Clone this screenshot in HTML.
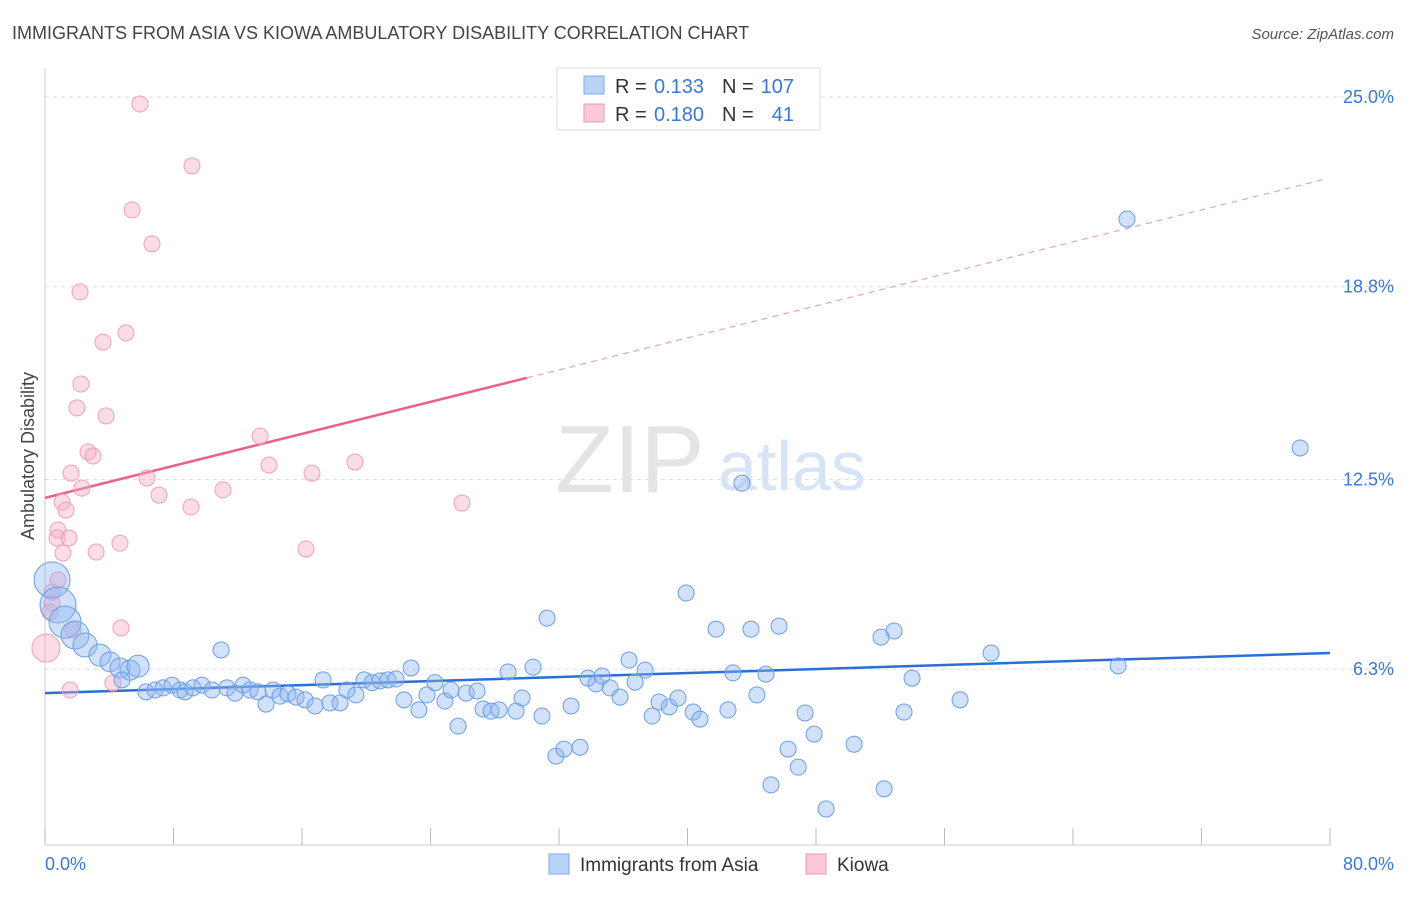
<!DOCTYPE html>
<html><head><meta charset="utf-8"><style>
body{margin:0;background:#fff;font-family:"Liberation Sans",sans-serif}
svg text{font-family:"Liberation Sans",sans-serif}
</style></head><body>
<svg width="1406" height="892" viewBox="0 0 1406 892">
<text x="12" y="39" font-size="18" fill="#444">IMMIGRANTS FROM ASIA VS KIOWA AMBULATORY DISABILITY CORRELATION CHART</text>
<text x="1394" y="39" font-size="15" fill="#555" font-style="italic" text-anchor="end">Source: ZipAtlas.com</text>
<g id="grid"></g>
<text x="555" y="492" font-size="96" fill="#e4e4e4" font-family="Liberation Serif">ZIP</text>
<text x="718" y="490" font-size="70" fill="#d6e4f5">atlas</text>
<line x1="45" y1="68" x2="45" y2="845" stroke="#ccc"/>
<line x1="45" y1="845" x2="1330" y2="845" stroke="#ccc"/>
<g id="xticks"></g>
<text x="45" y="870" font-size="18" fill="#3a78d4">0.0%</text>
<text x="1394" y="870" font-size="18" fill="#3a78d4" text-anchor="end">80.0%</text>
<text transform="translate(34,456) rotate(-90)" font-size="18" fill="#444" text-anchor="middle">Ambulatory Disability</text>
<g id="lines"></g>
<g id="pts"></g>
<g>
<rect x="557" y="68" width="263" height="62" fill="#fff" stroke="#ddd"/>
<rect x="584" y="76" width="20" height="18" fill="#b9d3f7" stroke="#7ea9e8"/>
<rect x="584" y="104" width="20" height="18" fill="#fbc9d9" stroke="#ee98b6"/>
<text x="615" y="93" font-size="20" fill="#333">R =</text>
<text x="704" y="93" font-size="20" fill="#3a78d4" text-anchor="end">0.133</text>
<text x="722" y="93" font-size="20" fill="#333">N =</text>
<text x="794" y="93" font-size="20" fill="#3a78d4" text-anchor="end">107</text>
<text x="615" y="121" font-size="20" fill="#333">R =</text>
<text x="704" y="121" font-size="20" fill="#3a78d4" text-anchor="end">0.180</text>
<text x="722" y="121" font-size="20" fill="#333">N =</text>
<text x="794" y="121" font-size="20" fill="#3a78d4" text-anchor="end">41</text>
</g>
<g>
<rect x="549" y="854" width="20" height="20" fill="#b9d3f7" stroke="#7ea9e8"/>
<text x="580" y="871" font-size="19" fill="#333">Immigrants from Asia</text>
<rect x="806" y="854" width="20" height="20" fill="#fbc9d9" stroke="#ee98b6"/>
<text x="837" y="871" font-size="19" fill="#333">Kiowa</text>
</g>
</svg>
<script>
const yTicks=[25.0,18.8,12.5,6.3];
const yTickLabels=["25.0%","18.8%","12.5%","6.3%"];
const xTickVals=[0,8,16,24,32,40,48,56,64,72,80];
const blueX=[0.44,0.81,1.25,1.87,2.49,3.42,4.05,4.67,5.29,5.79,4.79,6.29,6.85,7.35,7.91,8.41,8.72,9.21,9.77,10.40,10.96,11.33,11.83,12.33,12.76,13.26,13.76,14.20,14.63,15.13,15.63,16.19,16.81,17.31,17.74,18.37,18.80,19.36,19.86,20.36,20.86,21.35,21.85,22.35,22.79,23.28,23.78,24.28,24.90,25.28,25.72,26.22,26.90,27.27,27.77,28.27,28.83,29.33,29.70,30.38,30.94,31.26,31.81,32.31,32.75,33.31,33.81,34.30,34.68,35.18,35.80,36.36,36.74,37.36,37.80,38.23,38.86,39.41,39.91,40.35,40.78,41.78,42.52,42.83,43.39,43.95,44.32,44.88,45.70,45.20,46.26,46.89,47.32,47.88,48.63,50.37,52.05,52.24,52.86,53.48,53.98,56.97,58.90,66.81,67.36,78.14];
const blueY=[9.22,8.40,7.84,7.42,7.09,6.76,6.54,6.34,6.27,6.40,5.95,5.56,5.62,5.69,5.78,5.62,5.56,5.69,5.78,5.62,6.93,5.69,5.52,5.78,5.62,5.56,5.16,5.62,5.42,5.49,5.39,5.30,5.10,5.95,5.20,5.20,5.62,5.46,5.95,5.86,5.92,5.95,5.98,5.30,6.34,4.97,5.46,5.86,5.26,5.62,4.44,5.52,5.59,5.00,4.93,4.97,6.21,4.93,5.36,6.37,4.77,7.97,3.46,3.69,5.10,3.75,6.01,5.82,6.08,5.69,5.39,6.60,5.88,6.27,4.77,5.23,5.07,5.36,8.79,4.90,4.67,7.61,4.97,6.18,12.38,7.61,5.46,6.14,7.71,2.52,3.69,3.10,4.87,4.18,1.73,3.85,7.35,2.39,7.55,4.90,6.01,5.30,6.83,6.41,21.01,13.53];
const blueR=[18,18,16,14,12,11,10,10,10,11];
const pinkX=[5.91,9.15,5.42,6.66,2.18,5.04,3.61,2.24,1.99,3.80,13.39,2.68,2.99,13.95,19.30,1.62,16.62,6.35,2.30,11.08,7.10,1.06,25.96,9.09,1.31,0.81,0.75,1.49,4.67,1.12,3.18,16.25,0.81,0.44,0.44,0.31,4.73,1.74,0.06,4.23,1.56];
const pinkY=[24.77,22.75,21.31,20.20,18.63,17.29,16.99,15.62,14.84,14.58,13.92,13.40,13.27,12.97,13.07,12.71,12.71,12.55,12.22,12.16,11.99,11.76,11.73,11.60,11.50,10.85,10.59,10.59,10.42,10.10,10.13,10.23,9.22,8.82,8.46,8.17,7.65,7.58,6.99,5.85,5.62];
const blueLine=[5.52,6.83];
const pinkLine=[11.90,0.1307];
const pinkSolidEnd=30.0, pinkDashEnd=79.7;

const NS="http://www.w3.org/2000/svg";
const sx=v=>45+v/80*1285;
const sy=v=>97+(25-v)*30.6;
function mk(t,a,p){const e=document.createElementNS(NS,t);for(const k in a)e.setAttribute(k,a[k]);p.appendChild(e);return e;}
const grid=document.getElementById('grid');
yTicks.forEach((v,i)=>{
 const l=mk('line',{x1:45,x2:1394,y1:sy(v),y2:sy(v),stroke:'#ddd','stroke-dasharray':'4,4'},grid);
 
 
 const t=mk('text',{x:1394,y:sy(v)+6,'font-size':18,fill:'#3a78d4','text-anchor':'end'},grid);
 t.textContent=yTickLabels[i];
 
 
});
const xt=document.getElementById('xticks');
xTickVals.forEach(v=>{
 const l=mk('line',{x1:sx(v),x2:sx(v),y1:828,y2:845,stroke:'#bbb'},xt);
 
 
});
const ln=document.getElementById('lines');
let e=mk('line',{x1:sx(0),y1:sy(blueLine[0]),x2:sx(80),y2:sy(blueLine[1]),stroke:'#2a6fd6','stroke-width':2.5},ln);


const py=x=>pinkLine[0]+pinkLine[1]*x;
e=mk('line',{x1:sx(0),y1:sy(py(0)),x2:sx(pinkSolidEnd),y2:sy(py(pinkSolidEnd)),stroke:'#e8628f','stroke-width':2.5},ln);


e=mk('line',{x1:sx(pinkSolidEnd),y1:sy(py(pinkSolidEnd)),x2:sx(pinkDashEnd),y2:sy(py(pinkDashEnd)),stroke:'#eea0bb','stroke-width':1.2,'stroke-dasharray':'6,5'},ln);


const pts=document.getElementById('pts');
pinkX.forEach((x,i)=>{
 const c=mk('circle',{cx:sx(x),cy:sy(pinkY[i]),r:i==38?14:8,fill:'rgba(247,170,196,0.4)',stroke:'#eea0bb','stroke-width':1},pts);
 
 
});
blueX.forEach((x,i)=>{
 const c=mk('circle',{cx:sx(x),cy:sy(blueY[i]),r:blueR[i]||8,fill:'rgba(140,180,240,0.4)',stroke:'#6c9ee6','stroke-width':1},pts);
 
 
});
</script>
</body></html>
